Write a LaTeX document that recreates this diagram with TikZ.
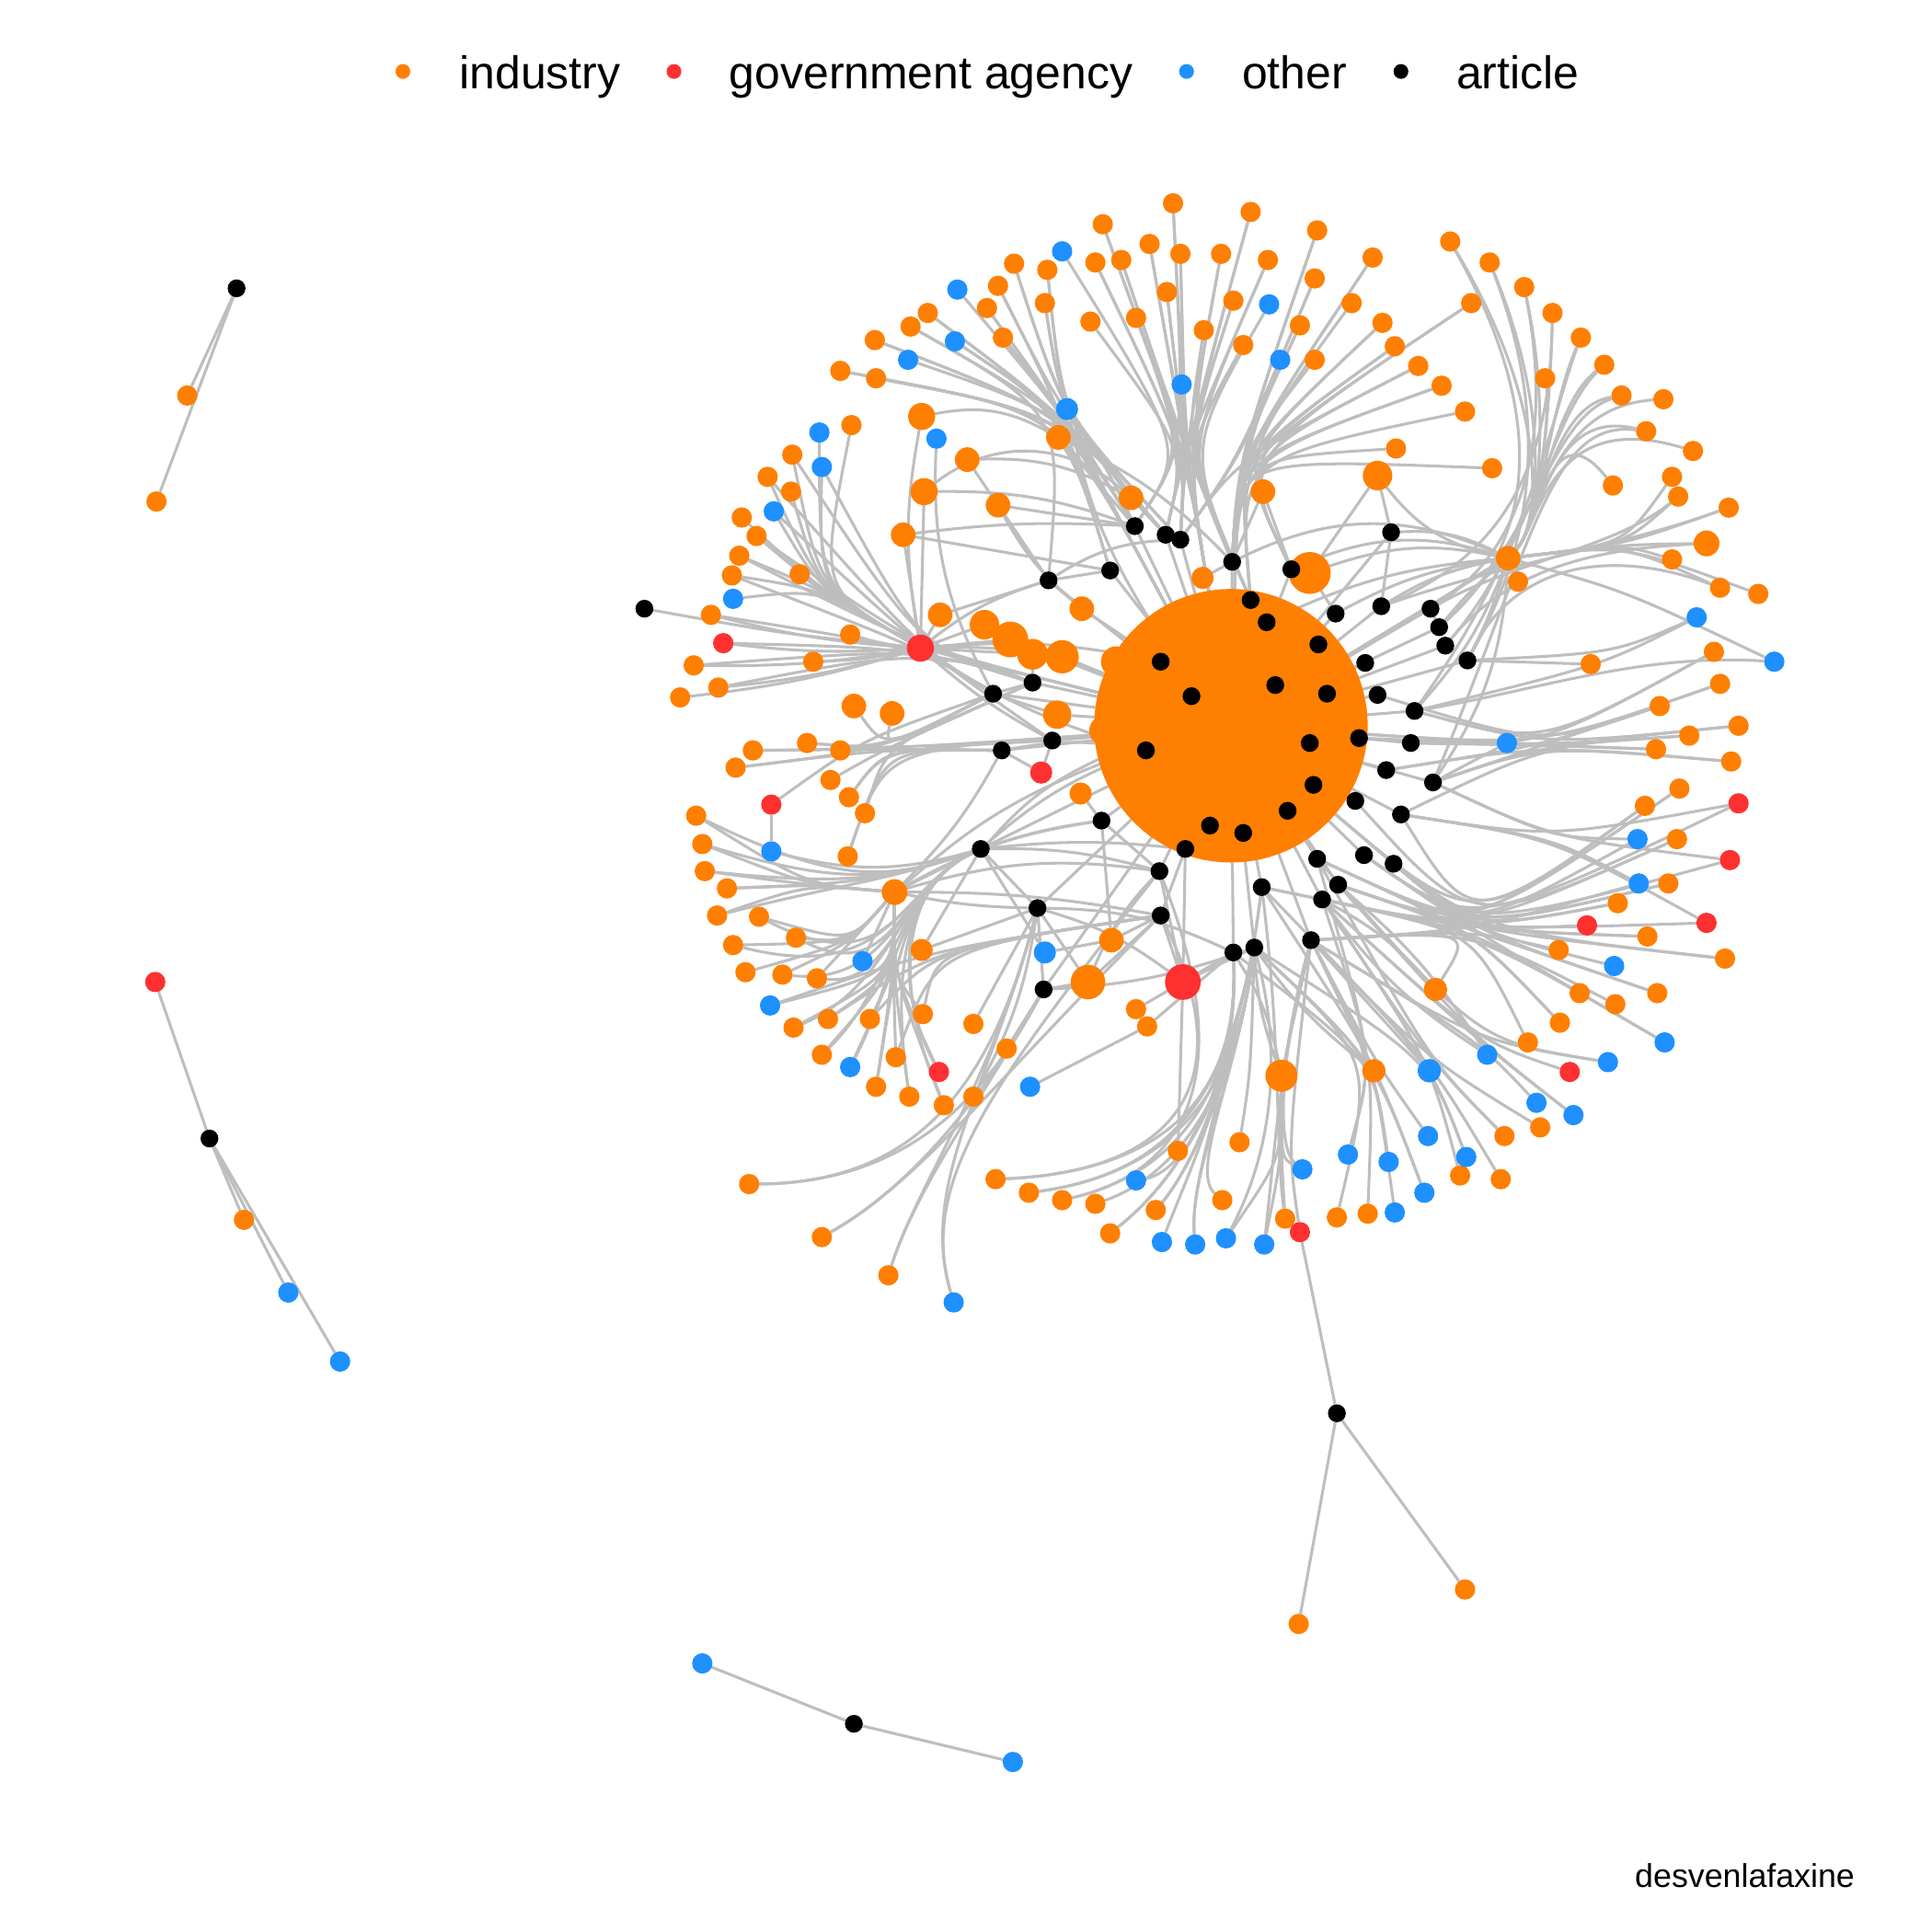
\documentclass[tikz,border=0pt]{standalone}
\usepackage{fontspec}
\setmainfont{Liberation Sans}
\usetikzlibrary{backgrounds}
\definecolor{cOr}{HTML}{FF7F00}
\definecolor{cRd}{HTML}{FF3030}
\definecolor{cBl}{HTML}{1E90FF}
\definecolor{cGr}{HTML}{BEBEBE}
\newcommand\legfont{\fontsize{10.6}{12.7}\selectfont}
\newcommand\capfont{\fontsize{7.6}{9}\selectfont}
\tikzset{
 nd/.style={circle,inner sep=0pt,outer sep=0pt,minimum size=1.65mm,draw=none},
 ind/.style={nd,fill=cOr},
 gov/.style={nd,fill=cRd},
 oth/.style={nd,fill=cBl},
 art/.style={nd,fill=black,minimum size=1.45mm},
 lnk/.style={draw=cGr,line width=0.65pt},
 lbl/.style={inner sep=0pt,outer sep=0pt,anchor=base west},
}
\begin{document}
\begin{tikzpicture}[x=0.1mm,y=-0.1mm]
\useasboundingbox (0,0) rectangle (1568,1568);

% ---------- centre ----------
\node[ind,minimum size=22.2mm] (C) at (999,589) {};

% ---------- larger orange ----------
\foreach \n/\x/\y/\s in {d16/1385/441/2.1, hD/1224/453/2.0, f22/1165/803/1.9, g19/1115/869/1.9, h18/1040/873/2.6, hJ/726/724/2.1, j25/748/771/1.8, k11/693/573/2.0, k12/724/579/2.0, m1/748/338/2.2, m3/785/373/2.0, m4/859/355/2.0, m5/750/399/2.2, m6/810/410/2.0, m7/918/404/2.0, m8/1025/399/2.0, m9/1118/386/2.4, m10/733/434/2.0, m11/763/499/2.0, m12/878/494/2.0, m13/799/507/2.4, m14/820/519/2.9, m15/838/531/2.5, m16/862/533/2.7, m17/906/537/2.5, m18/976/469/1.8, m19/1063/465/3.4, m20/858/580/2.3, m21/877/644/1.8, m23/896/593/2.4, m24/883/797/2.8, m26/902/763/2.0}
 \node[ind,minimum size=\s mm] (\n) at (\x,\y) {};

% ---------- small orange ----------
\foreach \n/\x/\y in {a1/682/301, a2/711/307, a4/710/276, a5/739/265, a6/753/254, a9/801/250, a10/810/232, a11/814/274, a12/823/214, a13/850/219, a14/848/246,
 b2/895/182, b3/889/213, b4/910/211, b5/885/261, b6/922/258, b7/933/198, b8/952/165, b9/958/206, b10/947/237, b11/977/268, b12/991/206, b13/1015/172, b14/1001/244, b15/1029/211, b17/1009/280,
 c1/1069/187, c2/1067/226, c3/1114/209, c4/1097/246, c5/1055/264, c6/1122/262, c7/1132/281, c8/1067/292, c10/1151/297, c11/1170/313, c12/1189/334, c13/1194/246, c14/1133/364, c15/1211/380,
 d1/1177/196, d2/1209/213, d3/1237/233, d4/1260/254, d5/1283/274, d6/1302/296, d7/1254/307, d8/1316/321, d9/1350/324, d10/1336/350, d11/1374/366, d12/1309/394, d13/1357/387, d14/1362/403, d15/1403/412, d17/1357/454, d18/1396/477, d19/1427/482, d20/1232/472,
 e3/1391/529, e4/1291/539, e5/1396/555, e6/1347/573, e7/1411/589, e8/1371/597, e9/1344/608, e10/1405/618,
 f1/1363/640, f3/1335/654, f5/1361/681, f8/1354/717, f9/1313/733, f12/1337/760, f13/1265/771, f14/1400/778, f16/1282/806, f17/1345/806, f18/1311/815, f19/1266/830, f20/1240/846,
 g6/1250/915, g7/1221/922, g8/1218/957, g10/1185/954, g15/1110/985, g17/1085/988,
 h1/808/957, h2/835/968, h3/862/974, h4/889/977, h5/901/1001, h6/938/982, h10/956/934, h11/992/974, h14/1043/989, h17/1006/927,
 i1/608/961, i2/667/1004, i3/721/1035,
 j1/565/662, j2/570/685, j3/572/707, j4/590/721, j5/582/743, j6/616/744, j7/595/767, j8/646/761, j9/605/789, j10/635/791, j11/663/794, j13/644/834, j14/672/827, j15/667/856, j17/706/827, j18/711/882, j19/727/858, j20/738/890, j21/749/823, j23/766/897, j26/790/890, j27/790/831, j28/817/851,
 k3/597/623, k4/611/609, k5/655/603, k6/682/609, k7/674/633, k8/689/647, k9/702/660, k10/688/695,
 l1/577/499, l3/563/540, l4/583/558, l5/552/566, l6/660/537, l7/690/515, l9/594/467, l10/600/451, l11/649/466, l12/614/435, l13/602/420, l15/623/387, l16/642/399, l17/643/369, l20/691/345,
 m28/922/819, m29/931/833,
 s2/152/321, s3/127/407, s6/198/990, s13/1054/1318, s14/1189/1290}
 \node[ind] (\n) at (\x,\y) {};

% ---------- blue ----------
\foreach \n/\x/\y in {a3/737/292, a7/775/277, a8/777/235, b1/862/204, b16/1030/247, b18/959/312, c9/1039/292, e1/1377/501, e2/1440/537, e11/1223/603, f4/1329/681, f7/1330/717, f15/1310/784, f21/1351/846, g1/1207/856, g2/1305/862, g4/1247/895, g5/1277/905, g9/1190/939, g11/1159/922, g12/1156/968, g13/1132/984, g14/1127/943, g16/1094/937, h7/943/1008, h8/970/1010, h9/922/958, h12/995/1005, h13/1026/1010, h16/1057/949, i4/774/1057, j12/625/816, j16/690/866, j24/700/780, j29/836/882, k1/626/691, l8/595/486, l14/628/415, l18/665/351, l19/667/379, m2/760/356, s7/234/1049, s8/276/1105, s9/570/1350, s11/822/1430}
 \node[oth] (\n) at (\x,\y) {};
\foreach \n/\x/\y/\s in {a15/866/332/1.8, g18/1160/869/1.9, m27/848/773/1.8}
 \node[oth,minimum size=\s mm] (\n) at (\x,\y) {};

% ---------- red ----------
\foreach \n/\x/\y in {f2/1411/652, f6/1404/698, f10/1288/751, f11/1385/749, g3/1274/870, h15/1055/1000, j22/762/870, k2/626/653, l2/587/522, s4/126/797}
 \node[gov] (\n) at (\x,\y) {};
\foreach \n/\x/\y/\s in {hL/747/526/2.2, m22/845/627/1.8, m25/960/797/2.9}
 \node[gov,minimum size=\s mm] (\n) at (\x,\y) {};

% ---------- black ----------
\foreach \n/\x/\y in {x1/921/427, x2/946/434, x3/958/438, x4/1000/456, x5/1048/462, x6/1129/432, x7/901/463, x8/851/471, x9/1015/487, x10/1028/505, x11/1084/498, x12/1121/492, x13/1161/494, x14/1168/509, x15/1173/524, x16/1191/536, x17/1070/523, x18/1108/538, x19/942/537, x20/967/565, x21/1035/556, x22/1077/563, x23/1118/564, x24/1148/577, x25/806/563, x26/838/554, x27/854/601, x28/813/609, x29/930/609, x30/1063/603, x31/1103/599, x32/1145/603, x33/1125/625, x34/1066/637, x35/1163/635, x36/1100/650, x37/1045/658, x38/1137/661, x39/982/670, x40/1009/676, x41/962/689, x42/894/666, x43/796/689, x44/1069/697, x45/1107/694, x46/1131/701, x47/941/707, x48/1024/720, x49/1086/718, x50/1073/730, x51/942/743, x52/842/737, x53/1001/773, x54/1018/769, x55/1064/763, x56/847/803,
 l21/523/494, s1/192/234, s5/170/924, s10/693/1399, s12/1085/1147}
 \node[art] (\n) at (\x,\y) {};

% ---------- legend ----------
\node[ind,minimum size=1.2mm] (lg1) at (327,58) {};
\node[lbl,font=\legfont] (lt1) at (373,72) {industry};
\node[gov,minimum size=1.2mm] (lg2) at (547,58) {};
\node[lbl,font=\legfont] (lt2) at (592,72) {government agency};
\node[oth,minimum size=1.2mm] (lg3) at (963,58) {};
\node[lbl,font=\legfont] (lt3) at (1008,72) {other};
\node[art,minimum size=1.2mm] (lg4) at (1137,58) {};
\node[lbl,font=\legfont] (lt4) at (1182,72) {article};
\node[lbl,font=\capfont] (cap) at (1327,1532) {desvenlafaxine};

% ---------- edges ----------
\begin{pgfonlayer}{background}
\fill[white] (0,0) rectangle (1568,1568);

\foreach \i in {1,...,56} \draw[lnk] (x\i) -- (C);

% group A
\foreach \n/\h in {a1/x1,a2/x7,a3/x1,a4/x2,a5/x1,a6/x7,a7/x2,a8/x1,a9/C,a10/x2,a11/x1,a12/x3,a13/x1,a14/x2,a5/x8,a9/x1,a12/x2,a13/C,a1/x2,a6/x1,a2/C,a4/x3,a7/C,a10/x7,a11/C,a14/x3}
 \draw[lnk] (\n) .. controls (862,335) .. (\h);
\draw[lnk] (a15) to[bend left=5] (x1);
\draw[lnk] (a15) to[bend right=5] (x2);
\draw[lnk] (a15) to[bend right=10] (C);

% group B
\foreach \n/\h in {b1/x1,b2/x2,b3/x3,b4/x1,b5/x2,b6/x3,b7/x4,b8/C,b9/x2,b10/x3,b11/x4,b12/x3,b13/C,b14/x4,b15/x4,b16/x9,b17/x4,b18/x3,b8/x1,b13/x3,b9/C,b12/x9,b3/C,b6/x9,b2/C,b4/x9,b7/C,b10/C,b14/C,b15/x2,b17/C}
 \draw[lnk] (\n) .. controls (962,365) .. (\h);

% group C
\foreach \n/\h in {c1/x4,c2/x3,c3/x4,c4/x5,c5/x3,c6/x4,c7/x5,c8/x4,c9/x3,c10/x5,c11/x4,c12/x9,c13/x5,c14/x5,c15/x4,c3/C,c6/x9,c10/x3,c1/C,c2/x9,c5/C,c7/x4,c11/C,c13/x4}
 \draw[lnk] (\n) .. controls (1005,372) .. (\h);

% group D
\foreach \n in {d1,d2,d3,d4,d5,d6,d7,d8,d9,d10,d11,d12}
 \draw[lnk] (\n) .. controls (1258,330) and (1250,425) .. (hD);
\foreach \n/\h in {d1/x14,d3/x13,d6/x15,d2/x16,d4/x12,d8/x14,d10/x35,d5/x24}
 \draw[lnk] (\n) .. controls (1258,340) and (1245,440) .. (\h);
\foreach \n in {d13,d14,d15,d16,d17,d18,d19}
 \draw[lnk] (\n) .. controls (1318,442) .. (hD);
\foreach \n/\h in {d14/x13,d16/x15,d18/x16,d15/x12}
 \draw[lnk] (\n) .. controls (1310,445) and (1230,455) .. (\h);
\draw[lnk] (d20) -- (hD);
\foreach \h/\b in {x6/15,x12/10,x11/10,m19/15,m9/-20,x13/5,x14/5,x16/-5,C/0,x5/20,x35/-15,x24/-10,x4/25,x10/10}
 \draw[lnk] (hD) to[bend right=\b] (\h);

% group E
\foreach \n/\h in {e3/x32,e5/x35,e6/x33,e7/x24,e8/x35,e9/x32,e10/x33,e7/x38,e10/x35,e3/x24,e5/C,e8/x31,e9/C,e6/x23}
 \draw[lnk] (\n) .. controls (1252,605) .. (\h);
\draw[lnk] (e1) .. controls (1300,540) .. (x24);
\draw[lnk] (e1) .. controls (1310,530) .. (x16);
\draw[lnk] (e2) .. controls (1320,480) .. (hD);
\draw[lnk] (e2) .. controls (1330,530) and (1250,560) .. (x24);
\draw[lnk] (e4) -- (x16);
\draw[lnk] (e11) -- (x32);
\draw[lnk] (e11) -- (x35);

% group F
\foreach \n/\h in {f1/x46,f2/x45,f3/x49,f4/x46,f5/x50,f6/x45,f7/x55,f8/x46,f9/x49,f10/x44,f11/x50,f12/x46,f13/x55,f14/x49,f15/x45,f16/x50,f17/x46,f18/x55,f19/x49,f20/x50,f21/x45,f22/x55,f1/x38,f5/x36,f9/x45,f3/C,f8/x44,f12/x48,f14/C,f17/x49,f19/x44,f21/x48}
 \draw[lnk] (\n) .. controls (1195,755) .. (\h);
\foreach \n/\h in {f2/x38,f6/x35,f11/x38,f4/x35,f7/x38}
 \draw[lnk] (\n) .. controls (1260,680) .. (\h);

% group G
\foreach \n/\h in {g2/x55,g3/x50,g4/x55,g5/x50,g2/x44,g5/x49}
 \draw[lnk] (\n) .. controls (1200,845) .. (\h);
\foreach \n/\h in {g6/x55,g7/x50,g8/x55,g9/x54,g10/x50,g7/x44,g9/x48}
 \draw[lnk] (\n) .. controls (1160,860) .. (\h);
\foreach \n/\h in {g11/x55,g12/x54,g13/x55,g14/x54,g15/x50,g16/x55,g17/x54,g12/x48,g14/x53,g16/x44}
 \draw[lnk] (\n) .. controls (1115,860) .. (\h);
\draw[lnk] (g1) to[bend left=10] (x50);
\draw[lnk] (g1) to[bend right=8] (x49);
\draw[lnk] (g18) -- (x55);
\draw[lnk] (g19) -- (x55);
\draw[lnk] (g19) to[bend left=8] (x54);
\draw[lnk] (f22) to[bend right=10] (x50);

% group H
\foreach \n/\h in {h1/x53,h2/x54,h3/x53,h4/x54,h5/x53,h6/x54,h7/x53,h8/x54,h9/x53,h11/x54,h1/x51,h3/x47,h2/x48,h5/x48,h6/x53,h8/x53}
 \draw[lnk] (\n) .. controls (965,950) and (1005,870) .. (\h);
\foreach \n in {h12,h13,h14,h16}
 \draw[lnk] (\n) .. controls (1040,940) .. (h18);
\foreach \n/\h in {h12/x54,h13/x55,h16/x55,h14/x48}
 \draw[lnk] (\n) .. controls (1035,930) and (1040,850) .. (\h);
\draw[lnk] (h15) .. controls (1045,930) .. (x55);
\draw[lnk] (h17) .. controls (1015,870) .. (x54);
\draw[lnk] (h10) -- (m25);
\draw[lnk] (h18) -- (x55);
\draw[lnk] (h18) to[bend left=8] (x54);
\draw[lnk] (h18) to[bend right=10] (x53);

% group I
\foreach \n/\h in {i1/x52,i2/x56,i3/x52,i4/x52,i1/x56,i3/x56,i2/x51,i4/x47}
 \draw[lnk] (\n) .. controls (745,960) and (805,880) .. (\h);

% group J
\foreach \n in {j1,j2,j3,j4,j5}
 \draw[lnk] (\n) .. controls (655,718) .. (hJ);
\foreach \n in {j1,j2,j3,j4,j5}
 \draw[lnk] (\n) .. controls (680,718) and (720,715) .. (x43);
\foreach \n in {j6,j7,j8,j9,j10,j11}
 \draw[lnk] (\n) .. controls (690,765) .. (hJ);
\foreach \n in {j12,j13,j14,j15,j16,j17,j18,j19,j20,j21,j22,j23}
 \draw[lnk] (\n) .. controls (725,790) .. (hJ);
\foreach \n in {j6,j7,j8,j10,j11,j13,j15,j16,j18,j20,j22,j23}
 \draw[lnk] (\n) .. controls (725,800) and (730,720) .. (x43);
\foreach \n in {j14,j19,j21,j17,j12}
 \draw[lnk] (\n) .. controls (760,770) .. (x51);
\draw[lnk] (j24) -- (hJ);
\draw[lnk] (j25) -- (x52);
\draw[lnk] (j25) -- (x43);
\draw[lnk] (j26) to[bend right=10] (x52);
\draw[lnk] (j27) -- (x52);
\draw[lnk] (j28) -- (x56);
\draw[lnk] (j29) -- (m29);
\foreach \h/\b in {x43/0,x42/-10,x52/5,x47/-12,x28/8,C/-10,x51/-5}
 \draw[lnk] (hJ) to[bend right=\b] (\h);
\foreach \h/\b in {x42/-5,x47/-8,C/-12,x29/-10,x41/-6}
 \draw[lnk] (x43) to[bend right=\b] (\h);

% group K
\foreach \n/\h in {k3/x25,k4/x28,k5/x25,k6/x28,k7/x26,k8/x28,k9/x25,k10/x28,k11/x25,k12/x26,k4/x26,k3/x28,k5/C,k8/x27,k10/C}
 \draw[lnk] (\n) .. controls (718,608) .. (\h);
\draw[lnk] (k1) -- (k2);
\draw[lnk] (k2) .. controls (700,600) .. (x25);
\draw[lnk] (k1) to[bend right=15] (x43);

% group L
\foreach \n in {l1,l2,l3,l4,l5,l6,l7}
 \draw[lnk] (\n) to[bend right=5] (hL);
\foreach \n in {l8,l9,l10,l11,l12,l13,l14,l15,l16,l17,l18,l19,l20}
 \draw[lnk] (\n) .. controls (665,478) .. (hL);
\foreach \n/\h in {l1/x25,l3/x26,l9/x25,l12/x26,l15/x25,l17/x26,l4/C,l10/C,l14/x27,l19/x26,l2/x25}
 \draw[lnk] (\n) .. controls (747,526) .. (\h);
\draw[lnk] (l21) .. controls (640,515) .. (hL);
\foreach \h/\b in {x25/0,x26/-5,m13/0,m14/0,m15/0,m16/-5,x19/-8,x29/8,C/0,x8/-10,x27/6}
 \draw[lnk] (hL) to[bend right=\b] (\h);

% middle
\draw[lnk] (m1) to[bend left=20] (m4);
\draw[lnk] (m1) to[bend right=10] (hL);
\draw[lnk] (m2) to[bend right=15] (x25);
\draw[lnk] (m3) to[bend left=15] (m7);
\draw[lnk] (m3) -- (x8);
\draw[lnk] (m4) to[bend left=10] (x4);
\draw[lnk] (m4) -- (x1);
\draw[lnk] (m5) -- (hL);
\draw[lnk] (m5) to[bend left=10] (x1);
\draw[lnk] (m5) to[bend left=40] (m7);
\draw[lnk] (m6) -- (x1);
\draw[lnk] (m6) -- (x8);
\draw[lnk] (m6) to[bend right=10] (m12);
\draw[lnk] (m7) -- (x2);
\draw[lnk] (m8) -- (x5);
\draw[lnk] (m8) -- (x4);
\draw[lnk] (m9) -- (x6);
\draw[lnk] (m9) -- (m19);
\draw[lnk] (m10) -- (x7);
\draw[lnk] (m10) to[bend left=5] (x1);
\draw[lnk] (m10) -- (hL);
\draw[lnk] (m11) -- (hL);
\draw[lnk] (m11) -- (x8);
\draw[lnk] (m12) -- (x8);
\draw[lnk] (m12) -- (x19);
\draw[lnk] (m13) -- (C);
\draw[lnk] (m14) -- (C);
\draw[lnk] (m15) -- (x26);
\draw[lnk] (m16) -- (C);
\draw[lnk] (m17) -- (C);
\draw[lnk] (m18) -- (x4);
\draw[lnk] (m19) -- (x5);
\draw[lnk] (m19) -- (x11);
\draw[lnk] (m20) -- (x25);
\draw[lnk] (m20) -- (C);
\draw[lnk] (m21) -- (x42);
\draw[lnk] (m22) -- (x27);
\draw[lnk] (m22) -- (x28);
\draw[lnk] (m23) -- (C);
\draw[lnk] (m24) -- (x51);
\draw[lnk] (m24) -- (x52);
\draw[lnk] (m24) to[bend left=10] (x47);
\draw[lnk] (m25) -- (x47);
\draw[lnk] (m25) -- (x51);
\draw[lnk] (m25) -- (x53);
\draw[lnk] (m25) -- (x54);
\draw[lnk] (m25) -- (x41);
\draw[lnk] (m26) -- (x42);
\draw[lnk] (m26) -- (x51);
\draw[lnk] (m27) -- (m26);
\draw[lnk] (m27) -- (x43);
\draw[lnk] (m28) -- (m25);
\draw[lnk] (m29) -- (x53);
\draw[lnk] (x56) -- (m24);
\draw[lnk] (x56) -- (x52);
\draw[lnk] (x43) -- (x52);
\draw[lnk] (x25) -- (x26);
\draw[lnk] (x8) -- (x7);
\draw[lnk] (x6) -- (x12);
\draw[lnk] (x13) -- (x14);
\draw[lnk] (x52) to[bend left=10] (m25);
\draw[lnk] (x42) -- (x47);
\draw[lnk] (x28) to[bend left=10] (x29);
\draw[lnk] (x52) to[bend left=12] (x53);
\draw[lnk] (x56) to[bend right=8] (x54);
\draw[lnk] (x8) to[bend left=15] (x3);

% isolated components
\draw[lnk] (s1) -- (s2);
\draw[lnk] (s1) -- (s3);
\draw[lnk] (s4) -- (s5);
\draw[lnk] (s5) -- (s6);
\draw[lnk] (s5) -- (s7);
\draw[lnk] (s5) -- (s8);
\draw[lnk] (s10) -- (s9);
\draw[lnk] (s10) -- (s11);
\draw[lnk] (h15) -- (s12);
\draw[lnk] (s12) -- (s13);
\draw[lnk] (s12) -- (s14);
\end{pgfonlayer}
\end{tikzpicture}
\end{document}
